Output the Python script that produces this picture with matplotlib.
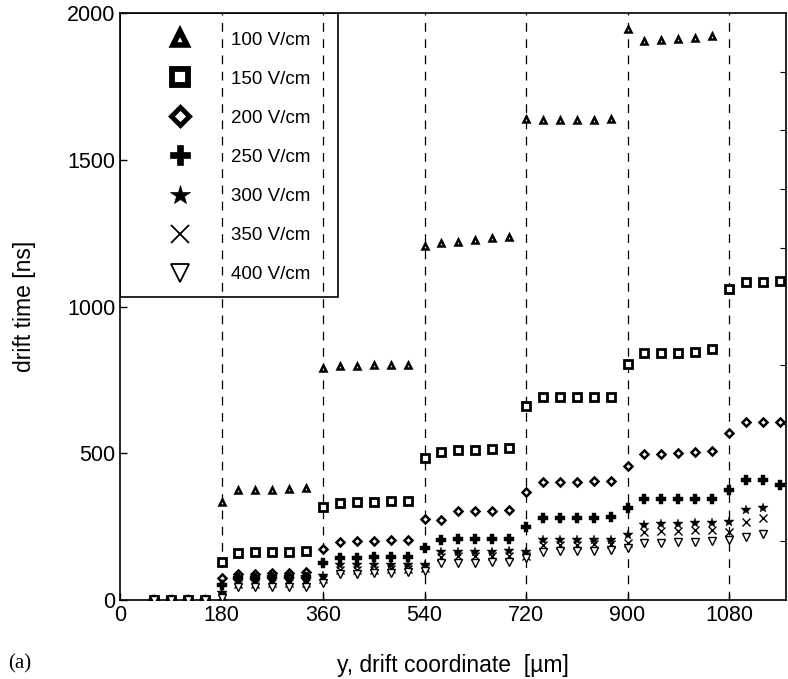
import numpy as np
import matplotlib
matplotlib.use('Agg')
from matplotlib import pyplot as plt
from matplotlib.lines import Line2D
from matplotlib.patches import Rectangle

plt.rcParams['font.family'] = ['Liberation Sans', 'DejaVu Sans']

# drift coordinate [um]
y_coord = [60, 90, 120, 150, 180, 210, 240, 270, 300, 330, 360, 390, 420, 450, 480,
           510, 540, 570, 600, 630, 660, 690, 720, 750, 780, 810, 840, 870, 900, 930,
           960, 990, 1020, 1050, 1080, 1110, 1140, 1170]
nan = np.nan
# drift time [ns] per field
t100 = [0, 0, 0, 0, 335, 375, 375, 376, 378, 380, 790, 798, 798, 800, 800, 800,
        1205, 1215, 1220, 1228, 1232, 1238, 1640, 1635, 1635, 1635, 1635, 1638,
        1945, 1905, 1908, 1910, 1915, 1922, nan, nan, nan, nan]
t150 = [0, 0, 0, 0, 130, 160, 162, 165, 165, 168, 318, 330, 335, 335, 338, 338,
        485, 505, 510, 512, 515, 518, 660, 690, 690, 690, 690, 690,
        805, 840, 840, 842, 845, 855, 1060, 1085, 1085, 1088]
t200 = [0, 0, 0, 0, 75, 88, 90, 92, 93, 95, 173, 198, 200, 202, 204, 205,
        276, 272, 303, 305, 305, 306, 368, 402, 402, 402, 404, 404,
        457, 497, 498, 500, 505, 508, 570, 607, 607, 607]
t250 = [0, 0, 0, 0, 50, 75, 76, 78, 78, 80, 125, 143, 144, 145, 145, 146,
        176, 206, 207, 207, 208, 209, 250, 278, 279, 280, 281, 282,
        313, 343, 343, 344, 345, 345, 375, 409, 409, 392]
t300 = [0, 0, 0, 0, 25, 65, 66, 67, 68, 68, 82, 118, 118, 119, 120, 121,
        118, 163, 164, 165, 165, 166, 164, 204, 204, 205, 205, 206,
        221, 255, 258, 260, 261, 262, 266, 307, 313, nan]
t350 = [0, 0, 0, 0, 15, 55, 56, 57, 57, 58, 70, 102, 103, 104, 105, 105,
        108, 148, 149, 150, 150, 151, 150, 187, 188, 189, 190, 190,
        194, 233, 234, 236, 237, 238, 233, 266, 279, nan]
t400 = [0, 0, 0, 0, 8, 43, 44, 45, 45, 46, 58, 88, 90, 92, 93, 95,
        100, 125, 126, 127, 128, 130, 143, 165, 166, 167, 168, 170,
        177, 196, 196, 197, 198, 200, 204, 215, 225, nan]
labels = ['100 V/cm', '150 V/cm', '200 V/cm', '250 V/cm', '300 V/cm', '350 V/cm', '400 V/cm']
boundaries = [180, 360, 540, 720, 900, 1080]

# marker styles: (marker, size, facecolor, edgewidth)
styles = [('^', 5.0, 'white', 1.8),
          ('s', 5.8, 'white', 2.0),
          ('D', 4.3, 'white', 1.8),
          ('P', 7.0, 'black', 0.3),
          ('*', 7.5, 'black', 0.3),
          ('x', 5.5, 'black', 1.0),
          ('v', 5.5, 'white', 1.0)]
leg_styles = [('^', 10, 'white', 4.0),
              ('s', 12, 'white', 4.2),
              ('D', 9, 'white', 3.5),
              ('P', 15, 'black', 0.5),
              ('*', 15, 'black', 0.5),
              ('x', 13, 'black', 1.3),
              ('v', 13, 'white', 1.3)]

fig = plt.figure(figsize=(7.88, 6.79), dpi=100)
ax = fig.add_axes([0.1523, 0.1163, 0.8452, 0.8646])

for b in boundaries:
    ax.axvline(b, color='black', lw=0.9, ls=(0, (7, 6)), zorder=1)

series = [t100, t150, t200, t250, t300, t350, t400]
for vals, (m, ms, fc, mew) in zip(series, styles):
    ax.plot(y_coord, vals, ls='none', marker=m, ms=ms, mfc=fc, mec='black',
            mew=mew, color='black', zorder=3)

handles = [Line2D([], [], ls='none', marker=m, ms=ms, mfc=fc, mec='black', mew=mew)
           for (m, ms, fc, mew) in leg_styles]
ax.legend(handles, labels, loc='upper left', bbox_to_anchor=(0, 1),
          borderaxespad=0, borderpad=1.0, handlelength=4.4, handletextpad=0.5,
          labelspacing=1.17, fontsize=13.5, frameon=False)
# legend box
ax.add_patch(Rectangle((0, 0.516), 0.328, 0.484, transform=ax.transAxes,
                       fill=False, ec='black', lw=1.2, zorder=5))

ax.set_xlim(0, 1181)
ax.set_ylim(0, 2000)
ax.set_xticks([0, 180, 360, 540, 720, 900, 1080])
ax.set_yticks([0, 500, 1000, 1500, 2000])
ax.set_yticks(np.arange(0, 2001, 200), minor=True)
ax.tick_params(axis='both', which='major', direction='in', length=5, width=1,
               labelsize=15.5, right=False, top=False)
ax.tick_params(axis='y', which='minor', direction='in', length=4, width=0.8,
               left=False, right=True)
for s in ax.spines.values():
    s.set_linewidth(1.2)

ax.set_xlabel('y, drift coordinate  [\u00b5m]', fontsize=16.5, labelpad=20)
ax.set_ylabel('drift time [ns]', fontsize=16.5, labelpad=22)
fig.text(0.010, 0.016, '(a)', fontsize=15, family='Liberation Serif')

fig.savefig('out.png', dpi=100)
